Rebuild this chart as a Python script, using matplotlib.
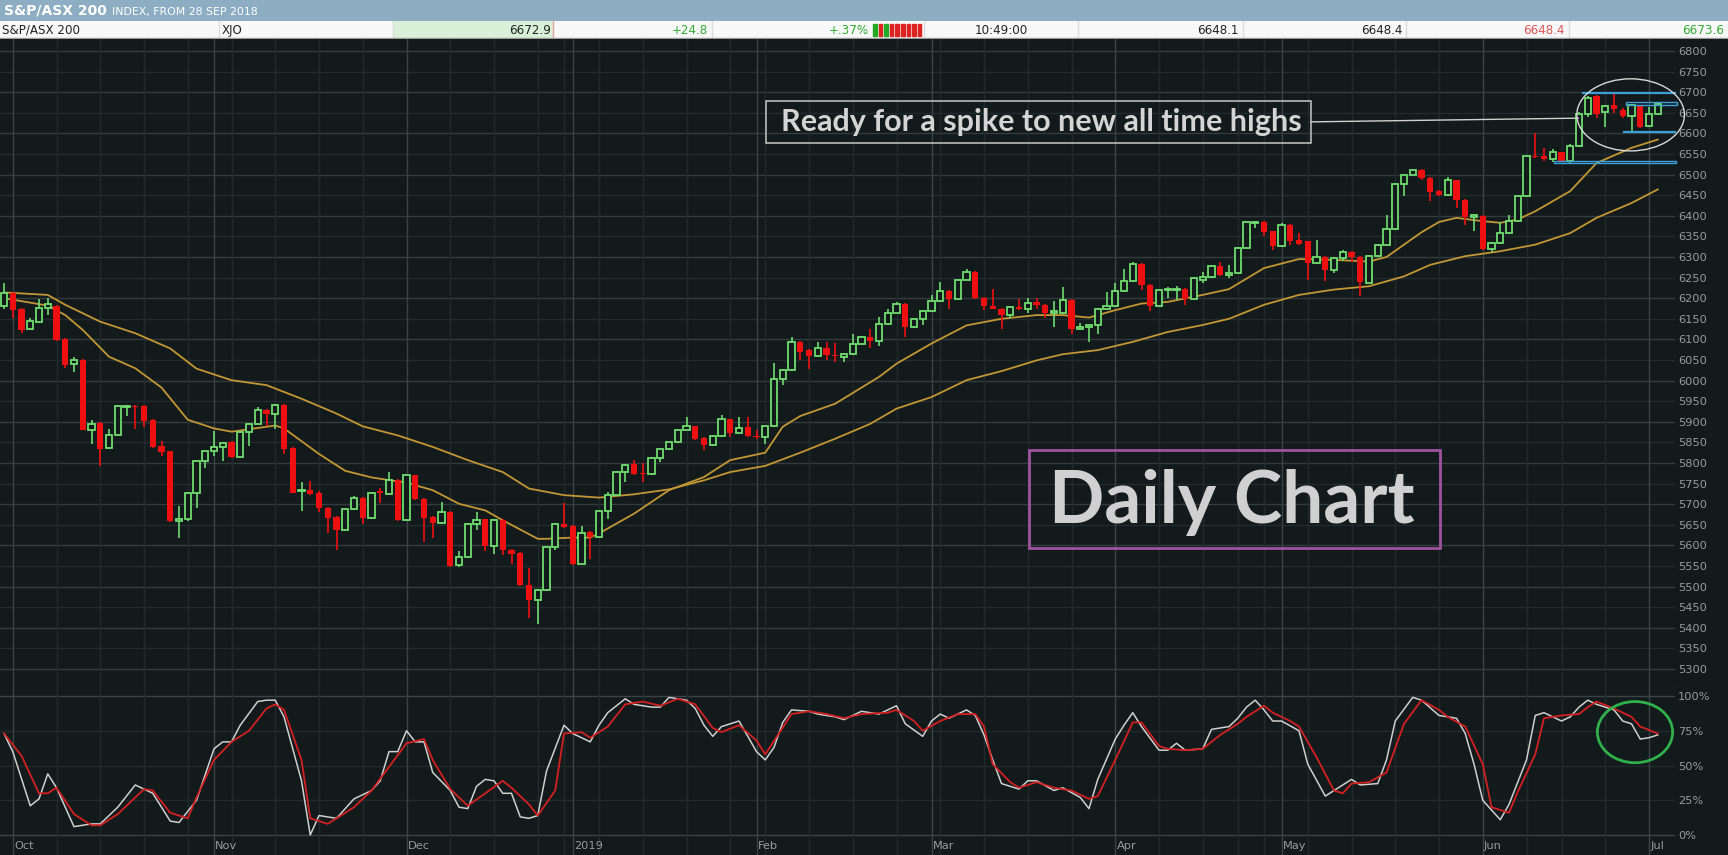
import numpy as np
import pandas as pd
import matplotlib
matplotlib.use('Agg')
import matplotlib.pyplot as plt
from matplotlib.patches import Ellipse, Rectangle

# ASX trading days from 28 Sep 2018 to 2 Jul 2019
asx_holidays = ['2018-12-25', '2018-12-26', '2019-01-01', '2019-01-28',
                '2019-04-19', '2019-04-22', '2019-04-25', '2019-06-10']
dates = pd.bdate_range('2018-09-28', '2019-07-02')
dates = dates[~dates.isin(pd.to_datetime(asx_holidays))]

month_labels = ['Oct', 'Nov', 'Dec', '2019', 'Feb', 'Mar', 'Apr', 'May', 'Jun', 'Jul']

# daily OHLC
opens = [
    6180,
    6212, 6173, 6125, 6143, 6176, 6180, 6101, 6041, 6051, 5881, 5897, 5836, 5867, 5936, 5938, 5938, 5905, 5841, 5828, 5659, 5663, 5727, 5804,
    5828, 5840, 5850, 5815, 5875, 5895, 5929, 5918, 5941, 5836, 5731, 5734, 5728, 5690, 5670, 5637, 5688, 5716, 5667, 5733, 5724, 5758,
    5662, 5770, 5712, 5669, 5654, 5681, 5552, 5572, 5653, 5663, 5598, 5661, 5590, 5582, 5503, 5467, 5491, 5596, 5653,
    5647, 5556, 5633, 5620, 5684, 5722, 5778, 5797, 5776, 5773, 5813, 5833, 5850, 5881, 5889, 5861, 5843, 5865, 5906, 5874, 5888,
    5865, 5863, 5889, 6005, 6025, 6094, 6074, 6059, 6078, 6063, 6057, 6065, 6090, 6106, 6096, 6138, 6165, 6187, 6129, 6150,
    6169, 6193, 6218, 6199, 6245, 6264, 6201, 6180, 6175, 6159, 6179, 6173, 6191, 6183, 6165, 6164, 6195, 6126, 6129, 6134, 6175,
    6180, 6218, 6241, 6284, 6232, 6180, 6219, 6221, 6223, 6199, 6243, 6252, 6278, 6256, 6261, 6322, 6382, 6385, 6362,
    6326, 6377, 6342, 6338, 6285, 6300, 6268, 6298, 6312, 6300, 6238, 6302, 6330, 6368, 6478, 6500, 6512, 6492, 6460, 6451, 6486, 6439, 6397,
    6399, 6319, 6334, 6358, 6387, 6447, 6546, 6546, 6538, 6554, 6532, 6569, 6648, 6690, 6653, 6668, 6658, 6642, 6666,
    6617, 6648,
]
highs = [
    6237,
    6215, 6176, 6151, 6198, 6200, 6183, 6104, 6058, 6053, 5905, 5899, 5883, 5940, 5941, 5940, 5940, 5907, 5854, 5830, 5696, 5730, 5806, 5830,
    5877, 5851, 5854, 5877, 5898, 5936, 5931, 5942, 5943, 5838, 5753, 5757, 5731, 5692, 5672, 5690, 5720, 5718, 5729, 5740, 5777, 5760,
    5772, 5772, 5714, 5671, 5706, 5683, 5586, 5655, 5681, 5665, 5663, 5663, 5592, 5584, 5544, 5493, 5598, 5655, 5703,
    5650, 5646, 5635, 5686, 5730, 5780, 5797, 5808, 5799, 5815, 5835, 5852, 5883, 5912, 5891, 5863, 5867, 5916, 5908, 5912, 5912,
    5880, 5891, 6042, 6027, 6106, 6096, 6076, 6094, 6094, 6091, 6067, 6114, 6108, 6126, 6155, 6175, 6191, 6189, 6152, 6171,
    6207, 6240, 6220, 6247, 6272, 6266, 6203, 6223, 6177, 6181, 6198, 6200, 6201, 6185, 6192, 6227, 6197, 6139, 6136, 6177, 6215,
    6237, 6270, 6288, 6286, 6234, 6221, 6227, 6230, 6225, 6252, 6264, 6280, 6288, 6280, 6324, 6386, 6388, 6387, 6364,
    6382, 6379, 6358, 6340, 6342, 6302, 6300, 6318, 6314, 6302, 6304, 6332, 6403, 6480, 6502, 6514, 6514, 6494, 6462, 6494, 6488, 6441, 6405,
    6401, 6336, 6386, 6403, 6449, 6548, 6600, 6565, 6563, 6556, 6575, 6652, 6690, 6692, 6668, 6697, 6662, 6670, 6670,
    6665, 6674,
]
lows = [
    6175,
    6151, 6116, 6122, 6140, 6159, 6096, 6031, 6021, 5879, 5846, 5793, 5833, 5865, 5913, 5883, 5887, 5836, 5818, 5657, 5619, 5660, 5690, 5788,
    5818, 5806, 5812, 5812, 5842, 5893, 5891, 5883, 5822, 5726, 5684, 5722, 5680, 5631, 5590, 5635, 5686, 5651, 5665, 5704, 5722, 5660,
    5660, 5710, 5609, 5619, 5652, 5548, 5548, 5570, 5638, 5586, 5580, 5576, 5556, 5501, 5424, 5410, 5489, 5588, 5643,
    5552, 5554, 5568, 5618, 5665, 5720, 5754, 5772, 5754, 5771, 5803, 5831, 5848, 5879, 5857, 5831, 5841, 5863, 5863, 5872, 5863,
    5858, 5846, 5887, 5989, 6023, 6051, 6027, 6057, 6050, 6045, 6045, 6063, 6088, 6078, 6084, 6136, 6163, 6106, 6127, 6135,
    6167, 6191, 6175, 6197, 6243, 6199, 6171, 6173, 6126, 6151, 6171, 6165, 6175, 6153, 6130, 6162, 6114, 6122, 6094, 6112, 6173,
    6178, 6216, 6239, 6219, 6168, 6178, 6200, 6196, 6183, 6197, 6237, 6250, 6254, 6248, 6259, 6320, 6370, 6350, 6318,
    6324, 6330, 6328, 6245, 6283, 6241, 6262, 6290, 6288, 6205, 6236, 6300, 6328, 6366, 6447, 6498, 6488, 6435, 6447, 6449, 6419, 6378, 6362,
    6317, 6311, 6332, 6356, 6385, 6445, 6540, 6532, 6530, 6530, 6526, 6567, 6640, 6638, 6616, 6650, 6638, 6604, 6614,
    6615, 6646,
]
closes = [
    6212,
    6172, 6123, 6145, 6176, 6185, 6098, 6037, 6051, 5881, 5895, 5834, 5867, 5938, 5938, 5936, 5903, 5838, 5826, 5659, 5663, 5727, 5804, 5828,
    5840, 5848, 5814, 5875, 5895, 5929, 5918, 5940, 5834, 5728, 5734, 5724, 5690, 5667, 5637, 5688, 5716, 5667, 5727, 5726, 5758, 5662,
    5770, 5712, 5667, 5654, 5680, 5550, 5572, 5653, 5661, 5598, 5661, 5588, 5578, 5503, 5467, 5491, 5596, 5653, 5645,
    5554, 5631, 5620, 5684, 5722, 5778, 5795, 5774, 5773, 5813, 5833, 5850, 5881, 5889, 5859, 5843, 5865, 5906, 5873, 5886, 5865,
    5862, 5889, 6005, 6025, 6094, 6070, 6059, 6078, 6062, 6059, 6065, 6090, 6106, 6096, 6138, 6165, 6187, 6129, 6150, 6169,
    6193, 6218, 6199, 6245, 6264, 6201, 6180, 6175, 6159, 6179, 6173, 6189, 6183, 6164, 6168, 6195, 6126, 6130, 6134, 6175, 6180,
    6218, 6241, 6284, 6232, 6180, 6219, 6223, 6223, 6199, 6250, 6252, 6278, 6256, 6260, 6322, 6384, 6384, 6360, 6326,
    6378, 6338, 6332, 6285, 6300, 6268, 6298, 6312, 6300, 6240, 6302, 6330, 6368, 6478, 6500, 6512, 6492, 6457, 6451, 6486, 6439, 6397, 6401,
    6319, 6334, 6358, 6387, 6447, 6546, 6543, 6538, 6554, 6532, 6569, 6648, 6687, 6646, 6666, 6660, 6642, 6668, 6616,
    6648, 6672,
]

# moving averages (short / long), read at candle indices
ma_short_idx = [0, 5, 7, 9, 12, 15, 18, 21, 24, 26, 28, 31, 32, 36, 39, 42, 46, 49, 52, 55, 57, 61, 62, 65, 67,
                68, 72, 76, 78, 80, 83, 87, 89, 91, 95, 100, 102, 106, 110, 114, 118, 121, 124, 127, 130, 133,
                137, 140, 144, 148, 152, 156, 158, 160, 162, 164, 166, 169, 171, 173, 175, 179, 182, 186, 189]
ma_short = [6200, 6182, 6159, 6123, 6058, 6030, 5983, 5905, 5884, 5876, 5882, 5891, 5884, 5822, 5781, 5765, 5752,
            5734, 5701, 5685, 5661, 5616, 5616, 5619, 5619, 5629, 5677, 5734, 5750, 5766, 5807, 5825, 5888, 5914,
            5944, 6009, 6041, 6090, 6134, 6150, 6159, 6159, 6153, 6171, 6187, 6191, 6208, 6222, 6273, 6295, 6293,
            6289, 6300, 6330, 6360, 6385, 6395, 6387, 6383, 6391, 6411, 6460, 6528, 6565, 6585]
ma_long_idx = [0, 5, 7, 11, 15, 19, 22, 26, 30, 34, 38, 41, 45, 49, 53, 57, 60, 64, 68, 72, 76, 80, 83, 87, 91,
               95, 99, 102, 106, 110, 114, 118, 121, 125, 129, 133, 137, 140, 144, 148, 152, 156, 160, 163, 167,
               171, 175, 179, 182, 186, 189]
ma_long = [6214, 6208, 6184, 6143, 6115, 6078, 6029, 6001, 5989, 5956, 5920, 5889, 5867, 5839, 5807, 5778, 5738,
           5722, 5716, 5724, 5736, 5758, 5778, 5793, 5825, 5859, 5895, 5932, 5960, 6001, 6023, 6049, 6064, 6074,
           6094, 6118, 6135, 6150, 6184, 6208, 6221, 6229, 6253, 6281, 6302, 6314, 6330, 6358, 6395, 6431, 6464]

# stochastic %K (white) and %D (red)
stoch_k_idx = [0, 1, 3, 4, 5, 6, 8, 10, 11, 13, 15, 17, 19, 20, 22, 24, 25, 26, 27, 29, 30, 31, 32, 34, 35, 36, 38,
               40, 42, 43, 44, 45, 46, 47, 48, 49, 51, 52, 53, 54, 55, 56, 57, 58, 59, 60, 61, 62, 64, 65, 67, 68,
               69, 71, 72, 74, 75, 76, 78, 79, 80, 81, 82, 84, 86, 87, 88, 89, 90, 92, 93, 95, 96, 98, 100, 102,
               103, 105, 106, 107, 108, 110, 111, 112, 113, 114, 116, 117, 118, 120, 121, 123, 124, 125, 127, 128,
               129, 130, 132, 133, 134, 135, 137, 138, 140, 141, 142, 143, 144, 145, 146, 148, 149, 151, 152, 154,
               155, 157, 158, 159, 161, 162, 164, 166, 167, 168, 169, 171, 172, 174, 175, 176, 177, 178, 179, 180,
               181, 182, 184, 185, 186, 187, 188, 189]
stoch_k = [73, 60, 21, 26, 44, 34, 6, 8, 8, 20, 36, 30, 10, 9, 25, 62, 67, 67, 79, 96, 97, 97, 85, 39, 0, 14, 12,
           26, 32, 39, 60, 60, 75, 67, 67, 45, 32, 20, 19, 35, 40, 39, 30, 30, 13, 12, 14, 46, 79, 73, 67, 79,
           88, 98, 94, 92, 92, 99, 97, 91, 79, 71, 78, 82, 60, 54, 63, 81, 90, 89, 87, 85, 83, 89, 87, 93,
           80, 71, 82, 87, 84, 90, 86, 72, 54, 37, 33, 39, 39, 32, 34, 27, 19, 40, 69, 79,
           88, 78, 61, 61, 66, 61, 62, 76, 78, 84, 92, 97, 90, 82, 82, 75, 51, 28, 32, 40,
           36, 37, 54, 82, 99, 97, 86, 84, 73, 51, 25, 11, 22, 54, 86, 88, 85, 82, 85, 92,
           97, 94, 90, 82, 80, 69, 70, 72]
stoch_d_idx = [0, 2, 4, 5, 6, 8, 10, 11, 13, 16, 17, 19, 21, 22, 24, 26, 28, 30, 31, 32, 34, 35, 37, 38, 40, 42,
               44, 46, 48, 49, 51, 53, 55, 57, 58, 60, 61, 63, 64, 66, 67, 69, 71, 73, 75, 77, 79, 81, 82, 84, 86,
               87, 90, 92, 94, 96, 98, 101, 102, 104, 105, 107, 109, 111, 112, 113, 115, 116, 118, 120, 122, 124,
               125, 127, 129, 130, 132, 133, 135, 137, 139, 141, 142, 144, 145, 147, 148, 150, 152, 153, 154, 156,
               158, 160, 162, 164, 165, 167, 169, 170, 172, 173, 175, 176, 178, 180, 181, 182, 184, 186, 187, 189]
stoch_d = [73, 57, 30, 30, 34, 15, 7, 7, 15, 33, 32, 16, 12, 27, 54, 67, 75, 91, 94, 90, 54, 12, 8, 12, 20, 32,
           49, 66, 69, 54, 33, 21, 30, 39, 34, 22, 14, 32, 73, 74, 70, 78, 94, 96, 93, 98, 94, 77, 74, 79, 68,
           58, 87, 89, 87, 84, 87, 88, 90, 82, 75, 82, 87, 87, 78, 51, 38, 34, 38, 34, 32, 26,
           28, 54, 81, 81, 64, 62, 61, 62, 72, 80, 85, 93, 88, 82, 78, 56, 32, 30, 37, 38,
           45, 80, 97, 90, 85, 78, 51, 20, 16, 31, 58, 84, 86, 87, 92, 96, 91, 85, 78, 73]

if len(dates) != len(closes):
    print("Warning: dates and candles differ:", len(dates), len(closes))

# colours
bg = '#131a1c'
grid_major = '#343c3f'
grid_minor = '#212a2c'
label_col = '#959b9e'
up_col = '#6fdc6f'
down_col = '#ee1010'
ma_col = '#c39634'
blue = '#3c9fd8'

o = np.array(opens, float)
h = np.array(highs, float)
l = np.array(lows, float)
c = np.array(closes, float)
x = np.arange(len(c))
up = c >= o

new_month = np.r_[True, dates.month[1:] != dates.month[:-1]]
weeks = dates.isocalendar().week.values
new_week = np.r_[True, weeks[1:] != weeks[:-1]]
month_idx = x[new_month][1:]
week_idx = x[new_week & ~new_month]

W, H = 1728, 855
fig = plt.figure(figsize=(W / 100, H / 100), dpi=100, facecolor=bg)

x_lo, x_hi = -4 / 8.75, (1675 - 4) / 8.75

# ---- header bars ----
hdr = fig.add_axes([0, (H - 21) / H, 1, 21 / H])
hdr.set_xlim(0, W)
hdr.set_ylim(0, 21)
hdr.axis('off')
hdr.add_patch(Rectangle((0, 0), W, 21, color='#8dadc2'))
hdr.text(4, 10, 'S&P/ASX 200', color='white', fontsize=10, fontweight='bold', va='center')
hdr.text(112, 9.5, 'INDEX, FROM 28 SEP 2018', color='white', fontsize=7.8, va='center')

row = fig.add_axes([0, (H - 39) / H, 1, 18 / H])
row.set_xlim(0, W)
row.set_ylim(0, 18)
row.axis('off')
row.add_patch(Rectangle((0, 0), W, 18, color='#f8f8f8'))
row.add_patch(Rectangle((393, 0), 160, 18, color='#d8f1d8'))
row.plot([553, 553], [0, 18], color='#e8a0a0', lw=1)
for sx in [219, 393, 712, 924, 1078, 1243, 1406, 1569]:
    row.plot([sx, sx], [0, 18], color='#dddddd', lw=1)
row.plot([0, W], [0.5, 0.5], color='#9a9a9a', lw=1)
cell_font = dict(fontsize=8.6, va='center')
row.text(2, 9, 'S&P/ASX 200', color='#222222', **cell_font)
row.text(222, 9, 'XJO', color='#222222', **cell_font)
row.text(551, 9, '6672.9', color='#222222', ha='right', **cell_font)
row.text(708, 9, '+24.8', color='#33aa33', ha='right', **cell_font)
row.text(869, 9, '+.37%', color='#33aa33', ha='right', **cell_font)
for k, col in enumerate(['#22aa22', '#dd2222', '#22aa22', '#dd2222', '#dd2222',
                         '#dd2222', '#dd2222', '#dd2222', '#dd2222']):
    row.add_patch(Rectangle((873 + k * 5.6, 3), 3.6, 12, color=col))
row.text(1001, 9, '10:49:00', color='#222222', ha='center', **cell_font)
row.text(1239, 9, '6648.1', color='#222222', ha='right', **cell_font)
row.text(1403, 9, '6648.4', color='#222222', ha='right', **cell_font)
row.text(1564, 9, '6648.4', color='#dd5555', ha='right', **cell_font)
row.text(1724, 9, '6673.6', color='#33aa33', ha='right', **cell_font)

# ---- price panel ----
ax = fig.add_axes([0, (H - 686) / H, 1675 / W, 647 / H])
ax.set_facecolor(bg)
ax.set_xlim(x_lo, x_hi)
ax.set_ylim(6800 - (686 - 51) / 0.412, 6800 + (51 - 39) / 0.412)

for lvl in range(5300, 6801, 50):
    ax.axhline(lvl, color=grid_major if lvl % 100 == 0 else grid_minor, lw=1, zorder=0)
for wi in week_idx:
    ax.axvline(wi, color=grid_minor, lw=1, zorder=0)
for mi in month_idx:
    ax.axvline(mi, color='#3b4346', lw=1, zorder=0)

ax.plot(ma_long_idx, ma_long, color=ma_col, lw=1.3, zorder=2)
ax.plot(ma_short_idx, ma_short, color=ma_col, lw=1.3, zorder=2)

# candles
bw = 0.7
body_lo = np.minimum(o, c)
body_hi = np.maximum(o, c)
body_h = np.maximum(body_hi - body_lo, 2.5)
ax.vlines(x[~up], l[~up], h[~up], color=down_col, lw=1.2, zorder=3)
ax.bar(x[~up], body_h[~up], bottom=body_lo[~up], width=bw, color=down_col, lw=0, zorder=4)
ax.vlines(x[up], body_hi[up], h[up], color=up_col, lw=1.2, zorder=3)
ax.vlines(x[up], l[up], body_lo[up], color=up_col, lw=1.2, zorder=3)
ax.bar(x[up], body_h[up], bottom=body_lo[up], width=bw, facecolor=bg, edgecolor=up_col, lw=1.3, zorder=4)

ax.yaxis.tick_right()
ax.set_yticks(range(5300, 6801, 50))
ax.tick_params(axis='y', length=0, pad=2, labelsize=8.2, labelcolor=label_col)
ax.tick_params(axis='x', bottom=False, labelbottom=False)
for s in ['top', 'left', 'right']:
    ax.spines[s].set_visible(False)
ax.spines['bottom'].set_color('#2c3437')

# annotations
ax.add_patch(Rectangle((766 / 1675, (686 - 143) / 647), (1311 - 766) / 1675, 42 / 647,
                       transform=ax.transAxes, fill=False, edgecolor='#c8c8c8', lw=1.1, zorder=6))
ax.text((779 + 1303) / 2 / 1675, (686 - 131.5) / 647, 'Ready for a spike to new all time highs',
        transform=ax.transAxes, ha='center', va='baseline', color='#d4d4d4',
        fontsize=22, fontweight='bold', family=['Lato', 'DejaVu Sans'], zorder=6)
ax.plot([149.4, 179.9], [6628, 6637], color='#d0d0d0', lw=1, zorder=6)
ax.add_patch(Ellipse((185.9, 6645), 12.3, 175, fill=False, edgecolor='#d8d8d8', lw=1, zorder=6, clip_on=False))
ax.plot([180.5, 191], [6697, 6697], color=blue, lw=1.6, zorder=5, clip_on=False)
ax.plot([185.1, 191], [6604, 6604], color=blue, lw=1.6, zorder=5, clip_on=False)
ax.add_patch(Rectangle((185.4, 6670), 5.8, 6, fill=False, edgecolor=blue, lw=1, zorder=5, clip_on=False))
ax.add_patch(Rectangle((177.1, 6528), 14.0, 6, fill=False, edgecolor=blue, lw=1, zorder=5, clip_on=False))

ax.add_patch(Rectangle((1029 / 1675, (686 - 548) / 647), (1440 - 1029) / 1675, 98 / 647,
                       transform=ax.transAxes, fill=False, edgecolor='#a052a0', lw=2, zorder=6))
ax.text(1232 / 1675, (686 - 523) / 647, 'Daily Chart', transform=ax.transAxes,
        ha='center', va='baseline', color='#d0d0d0', fontsize=52.5, fontweight='bold',
        family=['Lato', 'DejaVu Sans'], zorder=6)

# ---- stochastic panel ----
st = fig.add_axes([0, 0, 1675 / W, 169 / H])
st.set_facecolor(bg)
st.set_xlim(x_lo, x_hi)
st.set_ylim(-(855 - 835) / 1.39, 100 + (696 - 686) / 1.39)
for lvl in [0, 25, 50, 75, 100]:
    st.axhline(lvl, color='#3b4346' if lvl in (0, 100) else grid_minor, lw=1, zorder=0)
for wi in week_idx:
    st.axvline(wi, color=grid_minor, lw=1, zorder=0)
for mi in month_idx:
    st.axvline(mi, color='#3b4346', lw=1, zorder=0)
st.plot(stoch_k_idx, stoch_k, color='#cfcfcf', lw=1.1, zorder=2)
st.plot(stoch_d_idx, stoch_d, color='#d42020', lw=1.3, zorder=3)
st.add_patch(Ellipse((186.4, 74), 8.6, 44, fill=False, edgecolor='#2fb04a', lw=2, zorder=5, clip_on=False))

st.yaxis.tick_right()
st.set_yticks([0, 25, 50, 75, 100])
st.set_yticklabels(['0%', '25%', '50%', '75%', '100%'])
st.tick_params(axis='y', length=0, pad=2, labelsize=8.2, labelcolor=label_col)
st.tick_params(axis='x', bottom=False, labelbottom=False)
for s in st.spines.values():
    s.set_visible(False)
for mi, lab in zip(month_idx, month_labels):
    st.text(mi + 0.15, -8, lab, color=label_col, fontsize=8.2, va='center', ha='left')

fig.savefig('out.png', dpi=100, facecolor=bg)
